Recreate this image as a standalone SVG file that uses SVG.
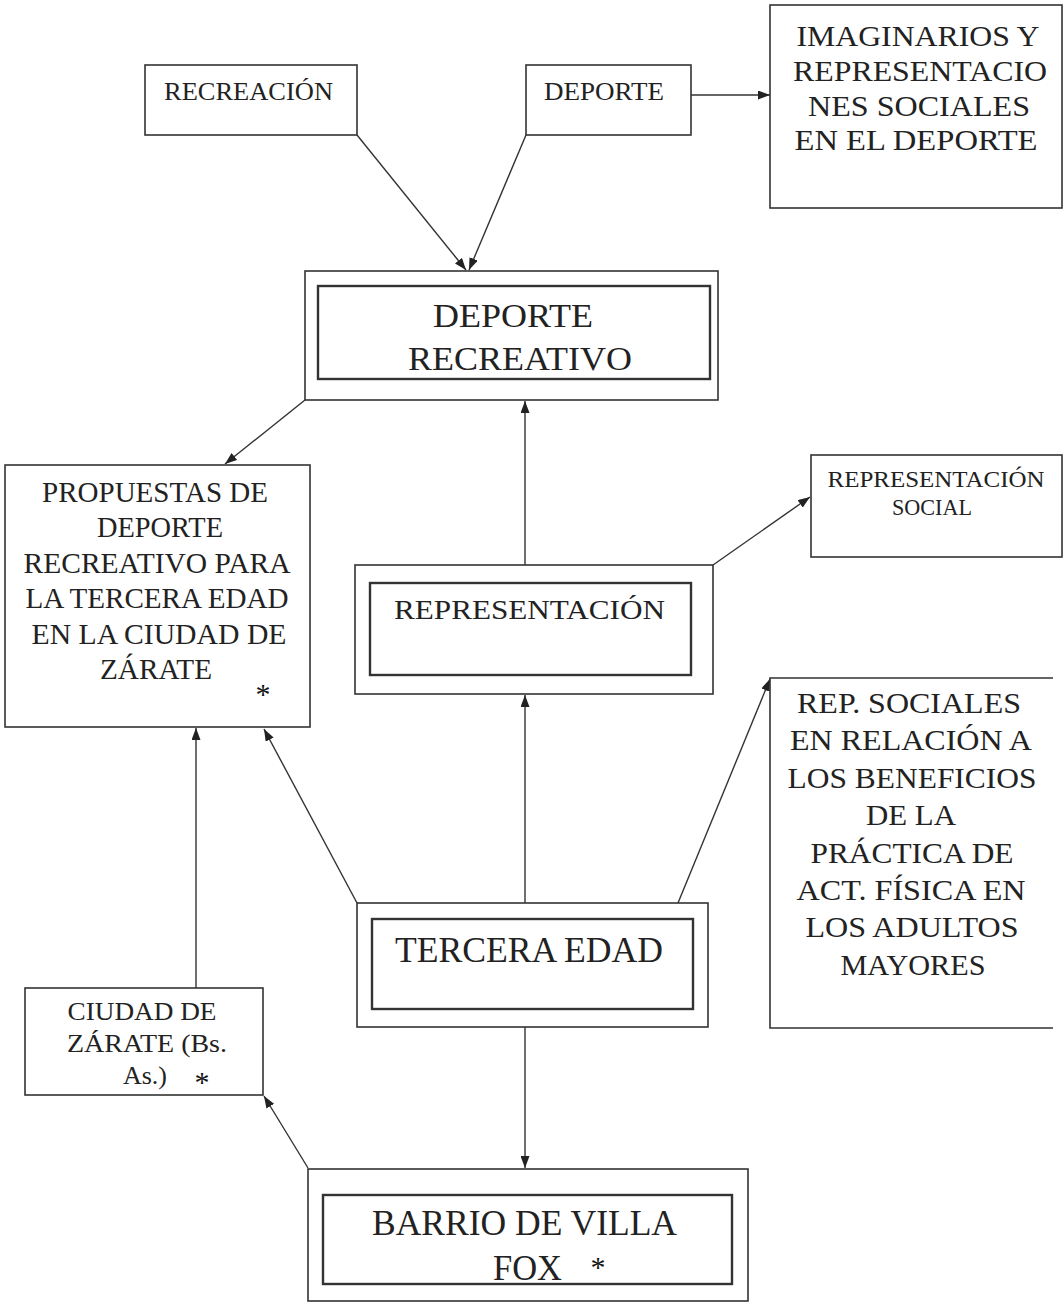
<svg xmlns="http://www.w3.org/2000/svg" width="1064" height="1302" viewBox="0 0 1064 1302">
<style>
.box{fill:#fff;stroke:#333;stroke-width:1.6}
.inner{fill:none;stroke:#333;stroke-width:2.4}
.open{fill:none;stroke:#333;stroke-width:1.6}
.t{font-family:"Liberation Serif","Times New Roman",serif;fill:#222;text-anchor:middle}
.s{font-family:"Liberation Serif","Times New Roman",serif;fill:#111;text-anchor:middle}
.conn{stroke:#333;stroke-width:1.4;fill:none;marker-end:url(#ah)}
</style>
<defs>
<marker id="ah" markerUnits="userSpaceOnUse" markerWidth="12" markerHeight="9" refX="12" refY="4.5" orient="auto">
<path d="M0,0 L12,4.5 L0,9 z" fill="#222"/>
</marker>
</defs>
<rect width="1064" height="1302" fill="#fff"/>
<g id="connectors">
<path class="conn" d="M357,135 L466,270"/>
<path class="conn" d="M526,135 L469,270"/>
<path class="conn" d="M691,95 L770,95"/>
<path class="conn" d="M305,400 L225,464"/>
<path class="conn" d="M525,565 L525,401"/>
<path class="conn" d="M713,565 L810,497"/>
<path class="conn" d="M525,903 L525,695"/>
<path class="conn" d="M678,903 L770,679"/>
<path class="conn" d="M357,903 L264,729"/>
<path class="conn" d="M525,1027 L525,1168"/>
<path class="conn" d="M196,988 L196,728"/>
<path class="conn" d="M308,1168 L264,1096"/>
</g>
<g id="recreacion">
<rect class="box" x="145" y="65" width="212" height="70"/>
<text class="t" x="248.5" y="100" font-size="25" textLength="169" lengthAdjust="spacingAndGlyphs">RECREACIÓN</text>
</g>
<g id="deporte">
<rect class="box" x="526" y="65" width="165" height="70"/>
<text class="t" x="604" y="100" font-size="25" textLength="120" lengthAdjust="spacingAndGlyphs">DEPORTE</text>
</g>
<g id="imaginarios">
<rect class="box" x="770" y="5" width="292" height="203"/>
<text class="t" x="918" y="46" font-size="30" textLength="243" lengthAdjust="spacingAndGlyphs">IMAGINARIOS Y</text>
<text class="t" x="920" y="81" font-size="30" textLength="254" lengthAdjust="spacingAndGlyphs">REPRESENTACIO</text>
<text class="t" x="919" y="116" font-size="30" textLength="222" lengthAdjust="spacingAndGlyphs">NES SOCIALES</text>
<text class="t" x="916" y="150" font-size="30" textLength="243" lengthAdjust="spacingAndGlyphs">EN EL DEPORTE</text>
</g>
<g id="deporte_recreativo">
<rect class="box" x="305" y="271" width="413" height="129"/>
<rect class="inner" x="318" y="286" width="392" height="93"/>
<text class="t" x="513" y="327" font-size="34" textLength="160" lengthAdjust="spacingAndGlyphs">DEPORTE</text>
<text class="t" x="520" y="370" font-size="34" textLength="224" lengthAdjust="spacingAndGlyphs">RECREATIVO</text>
</g>
<g id="propuestas">
<rect class="box" x="5" y="465" width="305" height="262"/>
<text class="t" x="155" y="502" font-size="29" textLength="226" lengthAdjust="spacingAndGlyphs">PROPUESTAS DE</text>
<text class="t" x="160" y="537" font-size="29" textLength="126" lengthAdjust="spacingAndGlyphs">DEPORTE</text>
<text class="t" x="157" y="573" font-size="29" textLength="267" lengthAdjust="spacingAndGlyphs">RECREATIVO PARA</text>
<text class="t" x="157" y="608" font-size="29" textLength="263" lengthAdjust="spacingAndGlyphs">LA TERCERA EDAD</text>
<text class="t" x="159" y="644" font-size="29" textLength="255" lengthAdjust="spacingAndGlyphs">EN LA CIUDAD DE</text>
<text class="t" x="156" y="679" font-size="29" textLength="112" lengthAdjust="spacingAndGlyphs">ZÁRATE</text>
<text class="s" x="263" y="704" font-size="30">*</text>
</g>
<g id="rep_social">
<rect class="box" x="811" y="455" width="251" height="102"/>
<text class="t" x="936" y="487" font-size="23" textLength="217" lengthAdjust="spacingAndGlyphs">REPRESENTACIÓN</text>
<text class="t" x="932" y="515" font-size="23" textLength="80" lengthAdjust="spacingAndGlyphs">SOCIAL</text>
</g>
<g id="representacion">
<rect class="box" x="355" y="565" width="358" height="129"/>
<rect class="inner" x="370" y="583" width="321" height="92"/>
<text class="t" x="529.5" y="619" font-size="27" textLength="271" lengthAdjust="spacingAndGlyphs">REPRESENTACIÓN</text>
</g>
<g id="rep_sociales">
<rect x="770" y="678" width="283" height="350" fill="#fff"/>
<path class="open" d="M1053,678 H770 V1028 H1053"/>
<text class="t" x="909" y="713" font-size="30" textLength="224" lengthAdjust="spacingAndGlyphs">REP. SOCIALES</text>
<text class="t" x="911" y="750.4" font-size="30" textLength="242" lengthAdjust="spacingAndGlyphs">EN RELACIÓN A</text>
<text class="t" x="912" y="787.8" font-size="30" textLength="249" lengthAdjust="spacingAndGlyphs">LOS BENEFICIOS</text>
<text class="t" x="911" y="825.2" font-size="30" textLength="90" lengthAdjust="spacingAndGlyphs">DE LA</text>
<text class="t" x="912" y="862.6" font-size="30" textLength="203" lengthAdjust="spacingAndGlyphs">PRÁCTICA DE</text>
<text class="t" x="911" y="900" font-size="30" textLength="229" lengthAdjust="spacingAndGlyphs">ACT. FÍSICA EN</text>
<text class="t" x="912" y="937.4" font-size="30" textLength="213" lengthAdjust="spacingAndGlyphs">LOS ADULTOS</text>
<text class="t" x="913" y="974.8" font-size="30" textLength="145" lengthAdjust="spacingAndGlyphs">MAYORES</text>
</g>
<g id="tercera_edad">
<rect class="box" x="357" y="903" width="351" height="124"/>
<rect class="inner" x="372" y="919" width="321" height="90"/>
<text class="t" x="529" y="962" font-size="35" textLength="268" lengthAdjust="spacingAndGlyphs">TERCERA EDAD</text>
</g>
<g id="ciudad">
<rect class="box" x="25" y="988" width="238" height="107"/>
<text class="t" x="142" y="1020" font-size="25" textLength="149" lengthAdjust="spacingAndGlyphs">CIUDAD DE</text>
<text class="t" x="147" y="1052" font-size="25" textLength="160" lengthAdjust="spacingAndGlyphs">ZÁRATE (Bs.</text>
<text class="t" x="145" y="1084" font-size="25" textLength="44" lengthAdjust="spacingAndGlyphs">As.)</text>
<text class="s" x="202" y="1092" font-size="30">*</text>
</g>
<g id="barrio">
<rect class="box" x="308" y="1169" width="440" height="132"/>
<rect class="inner" x="323" y="1195" width="409" height="89"/>
<text class="t" x="524.5" y="1235" font-size="35" textLength="305" lengthAdjust="spacingAndGlyphs">BARRIO DE VILLA</text>
<text class="t" x="527.5" y="1280" font-size="35" textLength="69" lengthAdjust="spacingAndGlyphs">FOX</text>
<text class="s" x="598" y="1277" font-size="30">*</text>
</g>
</svg>
